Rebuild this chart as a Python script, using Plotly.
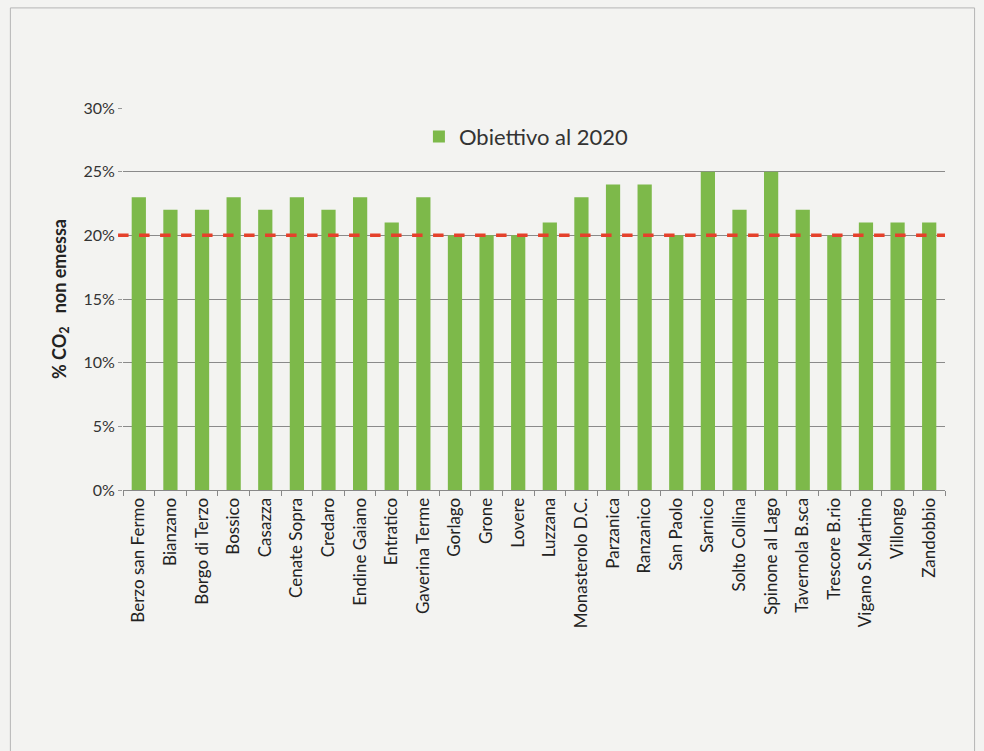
import plotly.graph_objects as go

comuni = ["Berzo san Fermo", "Bianzano", "Borgo di Terzo", "Bossico", "Casazza",
          "Cenate Sopra", "Credaro", "Endine Gaiano", "Entratico", "Gaverina Terme",
          "Gorlago", "Grone", "Lovere", "Luzzana", "Monasterolo D.C.", "Parzanica",
          "Ranzanico", "San Paolo", "Sarnico", "Solto Collina", "Spinone al Lago",
          "Tavernola B.sca", "Trescore B.rio", "Vigano S.Martino", "Villongo", "Zandobbio"]
obiettivo = [0.23, 0.22, 0.22, 0.23, 0.22, 0.23, 0.22, 0.23, 0.21, 0.23,
             0.20, 0.20, 0.20, 0.21, 0.23, 0.24, 0.24, 0.20, 0.25, 0.22,
             0.25, 0.22, 0.20, 0.21, 0.21, 0.21]
soglia = 0.20
yticks = [0, 0.05, 0.10, 0.15, 0.20, 0.25, 0.30]

FONT = "Lato, Open Sans, sans-serif"

fig = go.Figure()
fig.add_trace(go.Bar(x=comuni, y=obiettivo, name="Obiettivo al 2020",
                     marker=dict(color="#7db94a", line=dict(width=0))))

fig.add_shape(type="line", xref="paper", yref="y", x0=-0.006, x1=1.0, y0=soglia, y1=soglia,
              line=dict(color="#e5412b", width=3.5, dash="dash"))

# scanned page frame
fig.add_shape(type="rect", xref="paper", yref="paper",
              x0=-0.137, x1=1.036, y0=-0.72, y1=1.262,
              line=dict(color="#b5b5b5", width=1), layer="below")

fig.update_layout(
    width=984, height=751,
    margin=dict(l=123, r=39, t=108, b=261),
    paper_bgcolor="#f3f3f1", plot_bgcolor="#f3f3f1",
    bargap=0.55,
    showlegend=True,
    legend=dict(x=0.36, y=0.925, xanchor="left", yanchor="middle",
                font=dict(family=FONT, size=22, color="#333"),
                bgcolor="rgba(0,0,0,0)", itemsizing="constant", itemwidth=30),
    font=dict(family=FONT, color="#333"),
    xaxis=dict(tickangle=-90, tickfont=dict(size=17, color="#222"),
               showline=True, linecolor="#888", linewidth=1,
               ticks="outside", ticklen=5, tickcolor="#888", tickson="boundaries",
               showgrid=False),
    yaxis=dict(range=[0, 0.30], tickvals=yticks, tickformat=".0%",
               tickfont=dict(size=16, color="#333"),
               showgrid=True, gridcolor="#8a8a8a", gridwidth=1,
               zeroline=False, showline=False,
               ticks="outside", ticklen=4, tickcolor="#999",
               title=dict(text="<b>% CO<sub>2</sub>   non emessa</b>",
                          font=dict(size=18, color="#222"), standoff=12)),
)

fig.write_html("out.html")
